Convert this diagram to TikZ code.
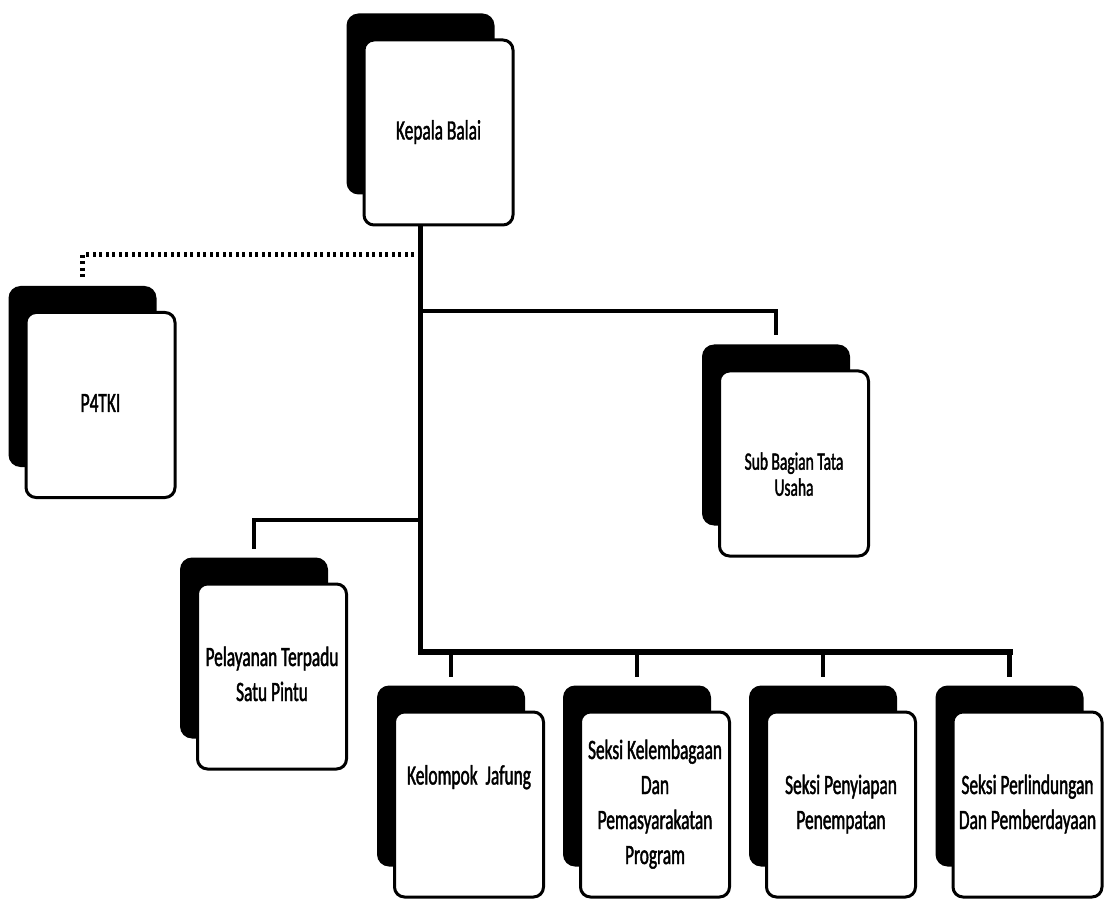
\documentclass[tikz,border=0pt]{standalone}
\usepackage{fontspec}
\setmainfont{Carlito}[FakeStretch=0.62,FakeBold=1.5]
\tikzset{
  textraise/.store in=\textraiseamt,
  textraise=0pt,
  orgnode/.style={draw=black, fill=white, line width=3pt, rounded corners=10pt,
    minimum width=149pt, minimum height=185pt, inner sep=0pt, textraise=0pt,
    font=\fontsize{28}{35}\selectfont},
  boxshadow/.style={fill=black, rounded corners=12pt},
  conn/.style={line width=4.5pt},
  mainbar/.style={line width=6pt, line cap=rect},
  dotlink/.style={line width=5pt, dash pattern=on 3pt off 3.5pt},
}
\newcommand\orgbox[5][]{%
  \fill[boxshadow] (#3-92,#4-119) rectangle (#3+56,#4+62);
  \node[orgnode,#1] (#2) at (#3,#4)
    {\raisebox{\textraiseamt}[\height][\depth]{\begin{tabular}{@{}c@{}}#5\end{tabular}}};
}
\begin{document}
\begin{tikzpicture}[x=1pt,y=-1pt]
\useasboundingbox (0,0) rectangle (1104,901);
\fill[white] (0,0) rectangle (1104,901);

\orgbox{kb}{438.5}{132.5}{Kepala Balai}
\orgbox{p4}{100.5}{405}{P4TKI}
\orgbox[font=\fontsize{25}{26}\selectfont, textraise=-14pt]{sb}{794}{463.5}{Sub Bagian Tata\\Usaha}
\orgbox{pel}{272}{676.5}{Pelayanan Terpadu\\Satu Pintu}
\orgbox[textraise=27pt]{kj}{469}{804.5}{Kelompok\ \ Jafung}
\orgbox{skp}{655}{804.5}{Seksi Kelembagaan\\Dan\\Pemasyarakatan\\Program}
\orgbox{spp}{841}{804.5}{Seksi Penyiapan\\Penempatan}
\orgbox{spd}{1027.5}{804.5}{Seksi Perlindungan\\Dan Pemberdayaan}

% connector end points
\path ([xshift=-18pt]kb.south) coordinate (ktop);
\path ([xshift=-18pt,yshift=34pt]p4.north) coordinate (dp4);
\path ([xshift=-18pt,yshift=34pt]sb.north) coordinate (dsb);
\path ([xshift=-18pt,yshift=34pt]pel.north) coordinate (dpel);
\path ([xshift=-18pt,yshift=34pt]kj.north) coordinate (d1);
\path ([xshift=-18pt,yshift=34pt]skp.north) coordinate (d2);
\path ([xshift=-18pt,yshift=34pt]spp.north) coordinate (d3);
\path ([xshift=-18pt,yshift=34pt]spd.north) coordinate (d4);
\coordinate (jP4) at (420.5,255);
\coordinate (jSub) at (420.5,311);
\coordinate (jPel) at (420.5,520);
\coordinate (jBar) at (420.5,652);

\draw[conn] (ktop) -- (jBar);
\draw[dotlink] (jP4) -| (dp4);
\draw[conn] (jSub) -| (dsb);
\draw[conn] (jPel) -| (dpel);
\draw[mainbar] (jBar) -- (d4 |- jBar);
\draw[conn] (d1 |- jBar) -- (d1);
\draw[conn] (d2 |- jBar) -- (d2);
\draw[conn] (d3 |- jBar) -- (d3);
\draw[conn] (d4 |- jBar) -- (d4);
\end{tikzpicture}
\end{document}
